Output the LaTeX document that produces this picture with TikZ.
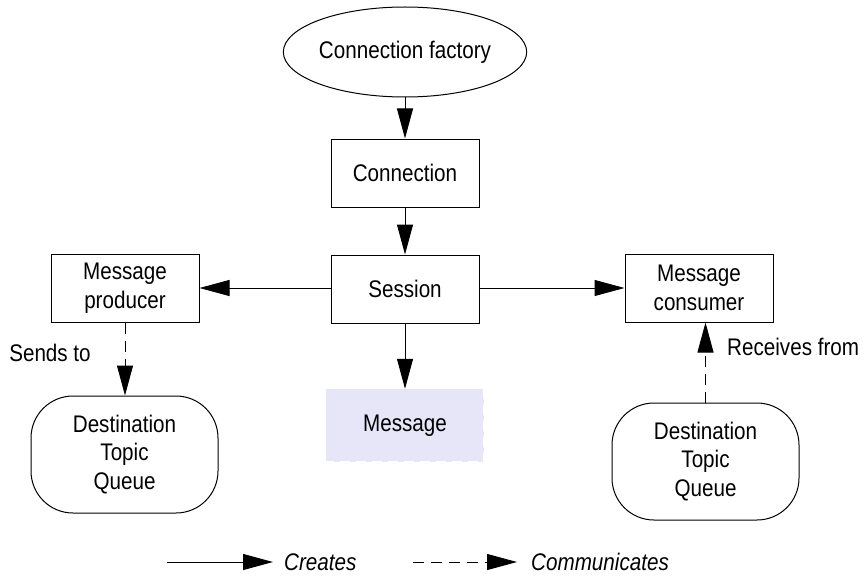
\documentclass[tikz,border=0pt]{standalone}
\usepackage{fontspec}
\setmainfont{Liberation Sans}[FakeStretch=0.86]
\usetikzlibrary{arrows.meta,shapes.geometric}
\definecolor{msgfill}{RGB}{230,230,248}
\tikzset{
  every node/.style={font=\fontsize{24pt}{28.5pt}\selectfont, inner sep=0pt, align=center},
  box/.style={draw=black, line width=1pt, minimum width=148pt, minimum height=68pt},
  oval/.style={ellipse, draw=black, line width=1pt, minimum width=232pt, minimum height=90pt},
  dest/.style={draw=black, line width=1pt, rounded corners=42pt, minimum width=187pt, minimum height=117pt},
  creates/.style={line width=1pt, -{Triangle[length=30pt,width=16pt]}},
  comm/.style={line width=1pt, dash pattern=on 11pt off 7pt, -{Triangle[length=30pt,width=16pt]}},
  lbl/.style={anchor=west},
}
\begin{document}
\begin{tikzpicture}[x=1pt,y=-1pt]
\useasboundingbox (0,0) rectangle (866,575);
\node[oval] (cf) at (405,52) {Connection factory};
\node[box] (conn) at (405,173) {Connection};
\node[box] (sess) at (405,289) {Session};
\node[box] (prod) at (125,288) {Message\\producer};
\node[box] (cons) at (699,288) {Message\\consumer};
\node[fill=msgfill, minimum width=158pt, minimum height=73pt] (msg) at (405,425.5) {Message};
\draw[white, line width=1.5pt, dash pattern=on 10pt off 6pt] (msg.north east) -- (msg.south east) -- (msg.south west);
\node[dest] (dl) at (124.5,454.5) {Destination\\Topic\\Queue};
\node[dest] (dr) at (705.5,461.5) {Destination\\Topic\\Queue};

\draw[creates] (cf) -- (conn);
\draw[creates] (conn) -- (sess);
\draw[creates] (sess) -- (msg);
\draw[creates] (sess.west |- prod.east) -- (prod.east);
\draw[creates] (sess.east |- cons.west) -- (cons.west);
\draw[comm] (prod.south) -- (prod.south |- dl.north);
\draw[comm] (dr.north) -- (dr.north |- cons.south);

\node[anchor=center] (sends) at (50,353) {Sends to};
\node[lbl] (recv) at (727,347) {Receives from};

\coordinate (l1a) at (167,562);
\coordinate (l1b) at (273,562);
\coordinate (l2a) at (413,562);
\coordinate (l2b) at (517,562);
\draw[creates] (l1a) -- (l1b);
\draw[comm] (l2a) -- (l2b);
\node[lbl] (lc) at (284,562) {\itshape Creates};
\node[lbl] (lm) at (531,562) {\itshape Communicates};
\end{tikzpicture}
\end{document}
